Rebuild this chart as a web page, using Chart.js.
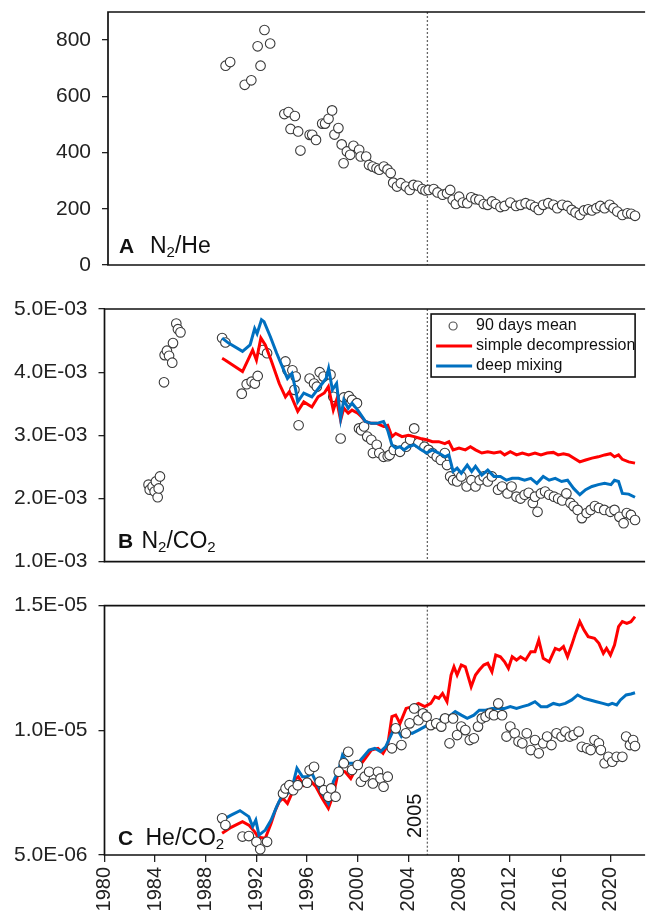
<!DOCTYPE html>
<html lang="en">
<head>
<meta charset="UTF-8">
<title>N2/He, N2/CO2, He/CO2</title>
<script src="https://cdn.jsdelivr.net/npm/chart.js@4.4.0/dist/chart.umd.min.js"></script>
<style>
  body { margin: 0; background: #fff; }
  #wrap { position: relative; width: 648px; height: 914px; overflow: hidden; }
  canvas { position: absolute; left: 0; }
</style>
</head>
<body>
<div id="wrap">
  <canvas id="panelA" width="648" height="290" style="top:0"></canvas>
  <canvas id="panelB" width="648" height="295" style="top:290px"></canvas>
  <canvas id="panelC" width="648" height="329" style="top:585px"></canvas>
</div>

<script>
const FONT = '"Liberation Sans", Arial, Helvetica, sans-serif';

// shared x axis
const xTicks = [1980, 1984, 1988, 1992, 1996, 2000, 2004, 2008, 2012, 2016, 2020];
const markYear = 2005.5;
const markLabel = '2005';
const legendLabels = ['90 days mean', 'simple decompression', 'deep mixing'];

// A: N2/He, 90 days mean
const aYears = [1989.56, 1989.92, 1991.07, 1991.59, 1992.09, 1992.32, 1992.63, 1993.08, 1994.2, 1994.53,
  1994.69, 1995.03, 1995.29, 1995.47, 1996.2, 1996.4, 1996.7, 1997.19, 1997.42, 1997.69,
  1997.97, 1998.16, 1998.47, 1998.73, 1998.88, 1999.14, 1999.4, 1999.66, 2000.11, 2000.23,
  2000.66, 2000.89, 2001.17, 2001.48, 2001.7, 2002.06, 2002.35, 2002.6, 2002.8, 2003.1,
  2003.4, 2003.8, 2004.1, 2004.4, 2004.75, 2005.1, 2005.35, 2005.6, 2006.0, 2006.3,
  2006.7, 2007.05, 2007.3, 2007.5, 2007.75, 2008.0, 2008.3, 2008.65, 2008.96, 2009.3,
  2009.6, 2009.95, 2010.26, 2010.6, 2010.9, 2011.27, 2011.6, 2012.05, 2012.5, 2012.86,
  2013.26, 2013.67, 2014.0, 2014.3, 2014.65, 2015.05, 2015.45, 2015.76, 2016.15, 2016.57,
  2016.9, 2017.2, 2017.54, 2017.87, 2018.2, 2018.5, 2018.85, 2019.16, 2019.5, 2019.9,
  2020.2, 2020.5, 2020.9, 2021.3, 2021.6, 2021.9];
const aVals = [709, 722, 641, 657, 778, 709, 836, 788, 537, 544,
  484, 530, 475, 407, 463, 463, 445, 503, 503, 520,
  550, 464, 487, 429, 362, 404, 392, 424, 410, 386,
  386, 356, 350, 344, 339, 350, 340, 327, 293, 279,
  291, 279, 267, 285, 282, 270, 265, 267, 270, 258,
  250, 255, 267, 232, 217, 243, 222, 220, 241, 234,
  232, 217, 214, 226, 217, 206, 210, 222, 210, 214,
  220, 214, 206, 196, 214, 220, 214, 202, 214, 210,
  196, 187, 178, 194, 198, 194, 202, 210, 202, 214,
  202, 190, 178, 184, 182, 175];
const aTicks = [0, 200, 400, 600, 800];

// B: N2/CO2 (values in 1E-03)
const bYears = [1983.48, 1983.57, 1983.8, 1983.96, 1984.06, 1984.2, 1984.28, 1984.38, 1984.7, 1984.75,
  1984.93, 1985.1, 1985.35, 1985.41, 1985.67, 1985.8, 1986.0, 1989.29, 1989.55, 1990.84,
  1991.23, 1991.62, 1991.87, 1992.1, 1992.5, 1992.84, 1994.29, 1994.45, 1994.84, 1995.0,
  1995.1, 1995.33, 1996.2, 1996.55, 1996.77, 1997.0, 1997.3, 1997.85, 1998.07, 1998.65,
  1998.9, 1999.3, 1999.55, 1999.94, 2000.1, 2000.27, 2000.5, 2000.75, 2001.07, 2001.2,
  2001.5, 2001.7, 2002.04, 2002.37, 2002.52, 2002.85, 2003.34, 2003.82, 2004.14, 2004.46,
  2004.79, 2005.27, 2005.6, 2005.9, 2006.24, 2006.56, 2006.88, 2007.05, 2007.3, 2007.53,
  2007.85, 2008.18, 2008.6, 2008.98, 2009.3, 2009.63, 2009.95, 2010.27, 2010.6, 2011.08,
  2011.4, 2011.83, 2012.15, 2012.54, 2012.86, 2013.18, 2013.5, 2013.83, 2014.0, 2014.2,
  2014.47, 2014.8, 2015.12, 2015.5, 2015.83, 2016.15, 2016.48, 2016.8, 2017.05, 2017.37,
  2017.7, 2018.08, 2018.4, 2018.73, 2019.05, 2019.47, 2019.96, 2020.28, 2020.67, 2021.0,
  2021.25, 2021.58, 2021.9];
const bVals = [2.22, 2.14, 2.19, 2.11, 2.27, 2.02, 2.16, 2.35, 3.84, 4.27,
  4.34, 4.26, 4.15, 4.46, 4.77, 4.68, 4.63, 4.54, 4.47, 3.66,
  3.81, 3.85, 3.82, 3.94, 4.35, 4.30, 4.17, 4.03, 4.03, 3.72,
  3.93, 3.16, 3.90, 3.82, 3.77, 4.00, 3.93, 3.96, 3.61, 2.95,
  3.60, 3.62, 3.56, 3.51, 3.11, 3.08, 3.14, 2.98, 2.93, 2.72,
  2.85, 2.72, 2.66, 2.67, 2.69, 2.77, 2.74, 2.82, 2.93, 3.11,
  2.88, 2.82, 2.77, 2.72, 2.66, 2.61, 2.72, 2.53, 2.35, 2.29,
  2.27, 2.35, 2.19, 2.29, 2.19, 2.29, 2.35, 2.27, 2.35, 2.14,
  2.19, 2.08, 2.19, 2.03, 2.00, 2.06, 2.09, 1.93, 2.03, 1.79,
  2.08, 2.11, 2.06, 2.03, 2.00, 1.97, 2.08, 1.93, 1.88, 1.82,
  1.69, 1.77, 1.82, 1.88, 1.85, 1.82, 1.79, 1.82, 1.71, 1.61,
  1.77, 1.74, 1.66];
const bRedYears = [1989.29, 1989.55, 1990.9, 1991.7, 1992.0, 1992.35, 1992.7, 1993.16, 1993.8, 1994.29,
  1994.6, 1995.26, 1995.74, 1996.38, 1996.87, 1997.36, 1997.68, 1998.07, 1998.33, 1998.65,
  1998.9, 1999.25, 1999.55, 2000.0, 2000.27, 2000.6, 2001.07, 2001.5, 2002.04, 2002.37,
  2002.7, 2003.0, 2003.5, 2004.0, 2004.46, 2004.95, 2005.44, 2005.9, 2006.4, 2006.88,
  2007.2, 2007.53, 2008.0, 2008.5, 2008.9, 2009.3, 2009.8, 2010.27, 2010.76, 2011.27,
  2011.6, 2012.05, 2012.54, 2013.0, 2013.5, 2014.0, 2014.47, 2014.96, 2015.45, 2015.83,
  2016.25, 2016.66, 2017.05, 2017.54, 2018.0, 2018.5, 2019.0, 2019.5, 2019.96, 2020.28,
  2020.6, 2020.9, 2021.4, 2021.9];
const bRedVals = [4.22, 4.19, 4.01, 4.35, 4.19, 4.54, 4.43, 4.19, 3.82, 3.61,
  3.69, 3.38, 3.53, 3.45, 3.61, 3.67, 3.77, 3.40, 3.56, 3.24,
  3.43, 3.35, 3.40, 3.35, 3.30, 3.22, 3.19, 3.19, 3.14, 3.16,
  2.98, 3.03, 2.98, 3.00, 2.98, 2.95, 2.93, 2.90, 2.90, 2.87,
  2.90, 2.77, 2.80, 2.77, 2.82, 2.77, 2.72, 2.74, 2.72, 2.74,
  2.69, 2.74, 2.69, 2.72, 2.69, 2.72, 2.69, 2.72, 2.73, 2.69,
  2.71, 2.69, 2.64, 2.58, 2.61, 2.64, 2.66, 2.69, 2.71, 2.66,
  2.69, 2.62, 2.58, 2.56];
const bBlueYears = [1989.29, 1989.8, 1990.9, 1991.5, 1991.86, 1992.05, 1992.4, 1992.6, 1993.1, 1993.6,
  1994.1, 1994.45, 1994.8, 1995.1, 1995.26, 1995.74, 1996.38, 1997.0, 1997.5, 1997.7,
  1998.0, 1998.33, 1998.65, 1998.9, 1999.25, 1999.55, 2000.0, 2000.27, 2000.6, 2001.07,
  2001.5, 2002.04, 2002.37, 2002.7, 2003.0, 2003.34, 2003.66, 2004.0, 2004.46, 2004.95,
  2005.44, 2005.9, 2006.4, 2006.88, 2007.2, 2007.53, 2007.85, 2008.18, 2008.65, 2009.0,
  2009.3, 2009.8, 2010.27, 2010.76, 2011.27, 2011.75, 2012.2, 2012.7, 2013.18, 2013.67,
  2014.15, 2014.65, 2015.12, 2015.6, 2016.1, 2016.57, 2017.05, 2017.54, 2018.0, 2018.5,
  2019.0, 2019.5, 2020.0, 2020.28, 2020.6, 2020.9, 2021.4, 2021.9];
const bBlueVals = [4.54, 4.46, 4.33, 4.43, 4.69, 4.61, 4.83, 4.80, 4.56, 4.30,
  4.06, 3.90, 3.98, 3.72, 3.53, 3.67, 3.61, 3.77, 3.90, 4.06,
  3.72, 3.82, 3.27, 3.56, 3.43, 3.51, 3.40, 3.32, 3.22, 3.19,
  3.19, 3.22, 3.08, 2.85, 2.80, 2.82, 2.77, 2.82, 2.85, 2.78,
  2.72, 2.77, 2.72, 2.66, 2.69, 2.43, 2.48, 2.40, 2.53, 2.43,
  2.51, 2.37, 2.45, 2.35, 2.35, 2.29, 2.32, 2.32, 2.29, 2.32,
  2.24, 2.35, 2.29, 2.32, 2.27, 2.29, 2.16, 2.06, 2.14, 2.19,
  2.22, 2.24, 2.22, 2.29, 2.27, 2.08, 2.07, 2.02];
const bTicks = [1, 2, 3, 4, 5];

// C: He/CO2 (values in 1E-05)
const cYears = [1989.29, 1989.55, 1990.9, 1991.4, 1992.0, 1992.3, 1992.84, 1994.1, 1994.3, 1994.6,
  1994.9, 1995.26, 1996.0, 1996.2, 1996.55, 1997.0, 1997.33, 1997.68, 1997.9, 1998.25,
  1998.5, 1998.9, 1999.25, 1999.55, 2000.0, 2000.25, 2000.55, 2000.9, 2001.2, 2001.6,
  2001.8, 2002.04, 2002.37, 2002.7, 2003.0, 2003.45, 2003.8, 2004.1, 2004.46, 2004.8,
  2005.15, 2005.44, 2005.77, 2006.2, 2006.6, 2006.9, 2007.25, 2007.53, 2007.85, 2008.18,
  2008.5, 2008.85, 2009.17, 2009.5, 2009.8, 2010.1, 2010.45, 2010.76, 2011.1, 2011.4,
  2011.75, 2012.05, 2012.4, 2012.7, 2013.0, 2013.35, 2013.67, 2014.0, 2014.3, 2014.65,
  2014.96, 2015.3, 2015.7, 2016.1, 2016.4, 2016.75, 2017.05, 2017.45, 2017.7, 2018.1,
  2018.4, 2018.7, 2019.05, 2019.2, 2019.5, 2019.8, 2020.1, 2020.45, 2020.9, 2021.2,
  2021.5, 2021.75, 2021.9];
const cVals = [0.647, 0.620, 0.574, 0.576, 0.553, 0.523, 0.553, 0.747, 0.767, 0.780,
  0.760, 0.780, 0.790, 0.840, 0.854, 0.794, 0.760, 0.734, 0.767, 0.734,
  0.834, 0.868, 0.914, 0.841, 0.861, 0.794, 0.814, 0.834, 0.787, 0.834,
  0.807, 0.774, 0.814, 0.928, 1.008, 0.941, 0.988, 1.028, 1.088, 1.041,
  1.068, 1.055, 1.021, 1.028, 1.015, 1.048, 0.948, 1.048, 0.981, 1.015,
  1.001, 0.961, 0.968, 1.015, 1.048, 1.055, 1.068, 1.061, 1.108, 1.061,
  0.975, 1.015, 0.988, 0.955, 0.948, 0.988, 0.921, 0.961, 0.908, 0.948,
  0.975, 0.941, 0.988, 0.975, 0.995, 0.975, 0.981, 0.995, 0.934, 0.928,
  0.921, 0.961, 0.948, 0.921, 0.868, 0.894, 0.874, 0.894, 0.894, 0.975,
  0.941, 0.961, 0.937];
const cRedYears = [1989.29, 1990.0, 1990.9, 1991.4, 1991.85, 1992.15, 1992.7, 1993.16, 1993.5, 1993.8,
  1994.1, 1994.45, 1994.8, 1995.0, 1995.3, 1995.74, 1996.2, 1996.7, 1997.2, 1997.68,
  1998.07, 1998.5, 1999.0, 1999.45, 1999.8, 2000.1, 2000.6, 2001.07, 2001.6, 2002.0,
  2002.37, 2002.7, 2003.0, 2003.34, 2003.82, 2004.3, 2004.8, 2005.3, 2005.77, 2006.1,
  2006.4, 2006.7, 2007.05, 2007.37, 2007.6, 2007.85, 2008.18, 2008.5, 2008.96, 2009.3,
  2009.6, 2009.95, 2010.27, 2010.6, 2010.9, 2011.27, 2011.6, 2011.9, 2012.2, 2012.54,
  2012.86, 2013.26, 2013.67, 2014.0, 2014.3, 2014.65, 2015.12, 2015.6, 2015.93, 2016.25,
  2016.57, 2016.9, 2017.2, 2017.54, 2017.87, 2018.2, 2018.7, 2019.05, 2019.4, 2019.65,
  2019.96, 2020.28, 2020.6, 2020.9, 2021.25, 2021.58, 2021.9];
const cRedVals = [0.587, 0.611, 0.634, 0.620, 0.594, 0.571, 0.567, 0.627, 0.680, 0.714,
  0.727, 0.707, 0.747, 0.801, 0.814, 0.780, 0.801, 0.774, 0.727, 0.687,
  0.741, 0.841, 0.834, 0.807, 0.841, 0.854, 0.888, 0.921, 0.928, 0.908,
  0.941, 1.055, 1.061, 1.028, 1.088, 1.095, 1.108, 1.095, 1.108, 1.135,
  1.128, 1.148, 1.115, 1.222, 1.255, 1.222, 1.262, 1.255, 1.175, 1.222,
  1.242, 1.262, 1.269, 1.235, 1.302, 1.295, 1.275, 1.249, 1.295, 1.282,
  1.295, 1.282, 1.315, 1.315, 1.362, 1.289, 1.275, 1.329, 1.322, 1.336,
  1.295, 1.342, 1.389, 1.436, 1.402, 1.376, 1.369, 1.349, 1.309, 1.329,
  1.302, 1.342, 1.416, 1.436, 1.429, 1.436, 1.456];
const cBlueYears = [1989.29, 1990.0, 1990.7, 1991.4, 1991.7, 1991.95, 1992.2, 1992.7, 1993.16, 1993.6,
  1994.1, 1994.45, 1994.9, 1995.2, 1995.64, 1996.0, 1996.38, 1996.7, 1997.2, 1997.68,
  1998.07, 1998.5, 1998.8, 1999.25, 1999.6, 2000.0, 2000.45, 2000.9, 2001.35, 2001.8,
  2002.2, 2002.7, 2003.0, 2003.45, 2003.82, 2004.3, 2004.8, 2005.3, 2005.77, 2006.27,
  2006.7, 2007.2, 2007.7, 2008.18, 2008.65, 2009.17, 2009.6, 2010.1, 2010.6, 2011.1,
  2011.6, 2012.05, 2012.54, 2013.0, 2013.5, 2014.0, 2014.47, 2014.96, 2015.45, 2015.93,
  2016.4, 2016.9, 2017.37, 2017.87, 2018.35, 2018.85, 2019.35, 2019.8, 2020.1, 2020.45,
  2020.75, 2021.2, 2021.58, 2021.9];
const cBlueVals = [0.640, 0.660, 0.678, 0.654, 0.614, 0.640, 0.580, 0.600, 0.640, 0.694,
  0.747, 0.747, 0.787, 0.848, 0.814, 0.814, 0.828, 0.794, 0.747, 0.707,
  0.794, 0.841, 0.901, 0.868, 0.868, 0.868, 0.894, 0.921, 0.928, 0.915,
  0.934, 0.988, 1.015, 0.975, 0.995, 0.988, 1.001, 1.015, 1.028, 1.035,
  1.048, 1.055, 1.075, 1.061, 1.048, 1.061, 1.081, 1.081, 1.088, 1.088,
  1.088, 1.095, 1.088, 1.095, 1.102, 1.115, 1.095, 1.095, 1.108, 1.102,
  1.108, 1.122, 1.142, 1.128, 1.122, 1.115, 1.108, 1.102, 1.108, 1.102,
  1.122, 1.142, 1.146, 1.151];
const cTicks = [0.5, 1.0, 1.5];

const RED = '#ff0000';
const BLUE = '#0070c0';

Chart.defaults.font.family = FONT;
Chart.defaults.color = '#222';

function pts(xs, ys, unit) {
  return xs.map((x, i) => ({ x: x, y: ys[i] * unit }));
}

function sci(v) {
  const parts = v.toExponential(1).split('e');
  const n = parseInt(parts[1], 10);
  return parts[0] + 'E' + (n < 0 ? '-' : '+') + String(Math.abs(n)).padStart(2, '0');
}

function yScale(min, max, ticks, fmt, leftW) {
  return {
    type: 'linear', min: min, max: max,
    afterBuildTicks: s => { s.ticks = ticks.map(v => ({ value: v })); },
    afterFit: s => { s.width = leftW; s.paddingTop = 0; s.paddingBottom = 0; },
    border: { display: false },
    grid: { drawOnChartArea: false, drawTicks: true, tickLength: 6, tickColor: '#222', lineWidth: 1.3 },
    ticks: { padding: 11, color: '#222', font: { size: 21 }, callback: fmt }
  };
}

function xScale(show, min) {
  return {
    type: 'linear', min: min, max: 2022.46, display: show,
    afterBuildTicks: s => { s.ticks = xTicks.map(v => ({ value: v })); },
    afterFit: s => {
      s.height = show ? 59 : 0;
      s.paddingLeft = 0;
      s.paddingRight = 0;
    },
    border: { display: false },
    grid: { drawOnChartArea: false, drawTicks: true, tickLength: 7, tickColor: '#222', lineWidth: 1.3 },
    ticks: { minRotation: 90, maxRotation: 90, autoSkip: false, padding: 5, color: '#222',
      font: { size: 20 }, callback: v => String(v) }
  };
}

const pointStyle = {
  showLine: false, pointRadius: 4.8, pointBorderWidth: 1.1,
  pointBorderColor: '#3a3a3a', pointBackgroundColor: '#fff'
};
function lineStyle(color) {
  return { showLine: true, pointRadius: 0, borderWidth: 3, borderColor: color, tension: 0 };
}

// frame, 2005 line, panel labels, legend
const deco = {
  id: 'deco',
  beforeDatasetsDraw(chart) {
    const { ctx, chartArea: { top, bottom } } = chart;
    const x = chart.scales.x.getPixelForValue(markYear);
    ctx.save();
    ctx.strokeStyle = '#666';
    ctx.lineWidth = 1.3;
    ctx.setLineDash([2, 2]);
    ctx.beginPath();
    ctx.moveTo(x, top);
    ctx.lineTo(x, bottom);
    ctx.stroke();
    ctx.restore();
  },
  afterDraw(chart, args, o) {
    const { ctx, chartArea: { left, top, right, bottom } } = chart;
    ctx.save();
    ctx.strokeStyle = '#111';
    ctx.lineWidth = 1.7;
    ctx.beginPath();
    ctx.moveTo(right + 3, top);
    ctx.lineTo(left, top);
    ctx.lineTo(left, bottom);
    ctx.lineTo(right + 3, bottom);
    ctx.stroke();

    // panel label
    const by = bottom - o.dy;
    ctx.fillStyle = '#111';
    ctx.textBaseline = 'alphabetic';
    ctx.textAlign = 'left';
    ctx.font = 'bold 21px ' + FONT;
    ctx.fillText(o.letter, left + o.lx, by);
    let x = left + o.nx;
    o.formula.forEach(([t, sub]) => {
      ctx.font = (sub ? '15px ' : '23px ') + FONT;
      ctx.fillText(t, x, sub ? by + 4 : by);
      x += ctx.measureText(t).width;
    });

    if (o.markText) {
      const mx = chart.scales.x.getPixelForValue(markYear);
      ctx.save();
      ctx.translate(mx - 12, bottom - 17);
      ctx.rotate(-Math.PI / 2);
      ctx.font = '20px ' + FONT;
      ctx.textBaseline = 'middle';
      ctx.fillText(markLabel, 0, 0);
      ctx.restore();
    }

    if (o.legend) {
      const bx = right - 211, bt = top + 5, bw = 204, bh = 63;
      ctx.fillStyle = '#fff';
      ctx.fillRect(bx, bt, bw, bh);
      ctx.strokeStyle = '#111';
      ctx.lineWidth = 1.6;
      ctx.strokeRect(bx, bt, bw, bh);
      ctx.font = '16px ' + FONT;
      ctx.textBaseline = 'middle';
      const rows = [bt + 12, bt + 32, bt + 52];
      // marker
      ctx.beginPath();
      ctx.arc(bx + 22, rows[0], 4, 0, Math.PI * 2);
      ctx.strokeStyle = '#555';
      ctx.lineWidth = 1.2;
      ctx.stroke();
      [RED, BLUE].forEach((c, i) => {
        ctx.beginPath();
        ctx.strokeStyle = c;
        ctx.lineWidth = 3;
        ctx.moveTo(bx + 5, rows[i + 1]);
        ctx.lineTo(bx + 41, rows[i + 1]);
        ctx.stroke();
      });
      ctx.fillStyle = '#111';
      legendLabels.forEach((t, i) => ctx.fillText(t, bx + 45, rows[i]));
    }
    ctx.restore();
  }
};

function makeChart(id, datasets, scales, padding, decoOpts) {
  return new Chart(document.getElementById(id), {
    type: 'scatter',
    data: { datasets: datasets },
    options: {
      responsive: false,
      animation: false,
      events: [],
      layout: { padding: padding },
      scales: scales,
      plugins: { legend: { display: false }, tooltip: { enabled: false }, deco: decoOpts }
    },
    plugins: [deco]
  });
}

makeChart('panelA',
  [Object.assign({ data: pts(aYears, aVals, 1) }, pointStyle)],
  { x: xScale(false, 1980.27), y: yScale(0, 900, aTicks, v => String(v), 108) },
  { top: 12, bottom: 25, left: 0, right: 0 },
  { letter: 'A', lx: 11, nx: 42, dy: 12.5, formula: [['N', 0], ['2', 1], ['/He', 0]] });

makeChart('panelB',
  [
    Object.assign({ data: pts(bBlueYears, bBlueVals, 1e-3) }, lineStyle(BLUE)),
    Object.assign({ data: pts(bRedYears, bRedVals, 1e-3) }, lineStyle(RED)),
    Object.assign({ data: pts(bYears, bVals, 1e-3) }, pointStyle)
  ],
  { x: xScale(false, 1980), y: yScale(1e-3, 5e-3, bTicks.map(v => v * 1e-3), v => sci(v), 104.5) },
  { top: 19, bottom: 23.3, left: 0, right: 0 },
  { letter: 'B', lx: 13.5, nx: 37, dy: 14, formula: [['N', 0], ['2', 1], ['/CO', 0], ['2', 1]], legend: true });

makeChart('panelC',
  [
    Object.assign({ data: pts(cYears, cVals, 1e-5) }, pointStyle),
    Object.assign({ data: pts(cBlueYears, cBlueVals, 1e-5) }, lineStyle(BLUE)),
    Object.assign({ data: pts(cRedYears, cRedVals, 1e-5) }, lineStyle(RED))
  ],
  { x: xScale(true, 1980), y: yScale(5e-6, 1.5e-5, cTicks.map(v => v * 1e-5), v => sci(v), 104.5) },
  { top: 20.7, bottom: 0, left: 0, right: 0 },
  { letter: 'C', lx: 13.5, nx: 41, dy: 10, formula: [['He/CO', 0], ['2', 1]], markText: true });
</script>
</body>
</html>
